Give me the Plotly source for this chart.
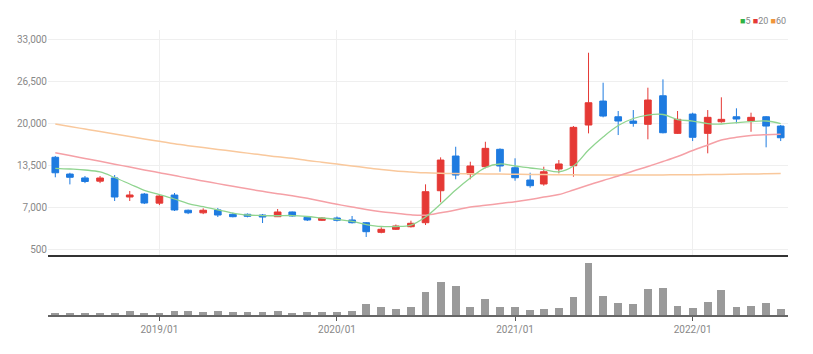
import plotly.graph_objects as go
import pandas as pd

months = pd.date_range("2018-06-01", "2022-07-01", freq="MS").strftime("%Y-%m-%d").tolist()

open_ = [14700, 12100, 11500, 11000, 11500, 8550, 9000, 7600, 8850, 6500,
         6100, 6550, 5870, 5870, 5760, 5500, 6230, 5400, 4940, 5300,
         4990, 4570, 3080, 3550, 3950, 4570, 9520, 14890, 12100, 13240,
         15930, 13080, 11180, 10560, 12880, 13390, 19690, 23400, 20970, 20310,
         19800, 24220, 18400, 21390, 18400, 20200, 20970, 20310, 20970, 19530]
high_ = [14900, 12300, 11800, 11800, 11950, 9480, 9170, 8900, 9170, 6600,
         6800, 6850, 6120, 6000, 5920, 6690, 6300, 5530, 5450, 5530,
         5610, 4680, 3860, 4290, 4880, 10510, 14690, 16330, 14010, 17100,
         16080, 14540, 12310, 13240, 14270, 19540, 30880, 26240, 21860, 22010,
         25470, 26760, 21860, 21600, 22010, 23980, 22280, 21600, 21080, 19690]
low_ = [11600, 10500, 10700, 10700, 7930, 7930, 7460, 7300, 6380, 5900,
        5900, 5450, 5400, 5400, 4520, 5450, 5500, 4830, 4830, 4760,
        4450, 2360, 2930, 3440, 3830, 4210, 7730, 11290, 11290, 12990,
        12460, 11070, 9990, 10300, 12210, 11690, 18400, 20880, 18140, 19430,
        17480, 18400, 18300, 17210, 15310, 20050, 19950, 18650, 16240, 17210]
close_ = [12300, 11600, 10950, 11490, 8550, 8860, 7620, 8700, 6540, 6100,
          6500, 5760, 5500, 5560, 5450, 6230, 5610, 4990, 5300, 4940,
          4570, 3180, 3550, 4060, 4480, 9370, 14270, 11950, 13350, 16080,
          13350, 11530, 10300, 12460, 13660, 19330, 23140, 21080, 20310, 19950,
          23560, 18500, 20570, 17790, 20880, 20570, 20620, 20880, 19530, 17720]

ma5 = [12990, 12880, 12730, 12420, 11570, 10560, 9590, 8930, 8240, 7540,
       7050, 6540, 6070, 5760, 5680, 5650, 5680, 5530, 5300, 5100,
       4760, 4290, 3980, 3980, 4210, 5450, 7460, 9630, 11490, 13110,
       13660, 13350, 13040, 12800, 12460, 13350, 15820, 17830, 19610, 20700,
       21240, 21320, 20540, 20310, 19920, 19850, 20050, 20230, 20310, 19920]
ma20 = [15400, 14960, 14510, 14070, 13620, 13190, 12740, 12310, 11880, 11440,
        11020, 10620, 10220, 9820, 9430, 9070, 8760, 8350, 7880, 7420,
        7000, 6610, 6270, 6030, 5790, 5730, 6100, 6540, 7000, 7260,
        7540, 7820, 8160, 8550, 8930, 9630, 10400, 11100, 11800, 12570,
        13270, 14040, 14820, 15740, 16600, 17370, 17790, 18070, 18190, 18250]
ma60 = [19850, 19460, 19070, 18700, 18310, 17930, 17540, 17170, 16780, 16490,
        16210, 15910, 15640, 15340, 15060, 14770, 14550, 14210, 13930, 13640,
        13360, 13080, 12790, 12570, 12420, 12290, 12220, 12180, 12150, 12120,
        12100, 12080, 12050, 12030, 12000, 11980, 11960, 11950, 11950, 11950,
        11960, 11970, 11990, 12000, 12020, 12050, 12080, 12110, 12140, 12170]

volume = [25000, 25000, 25000, 15000, 25000, 45000, 25000, 25000, 45000, 45000,
          30000, 45000, 30000, 30000, 30000, 45000, 25000, 30000, 30000, 30000,
          45000, 107000, 83000, 60000, 83000, 227000, 327000, 290000, 83000, 157000,
          83000, 77000, 50000, 57000, 67000, 177000, 523000, 190000, 123000, 107000,
          257000, 267000, 93000, 67000, 127000, 250000, 83000, 93000, 123000, 57000]

price_ticks = [500, 7000, 13500, 20000, 26500, 33000]
legend_labels = ["5", "20", "60"]

UP = "#e53935"
DOWN = "#1e7be0"
C5 = "#8fd48f"
C20 = "#f5a0a6"
C60 = "#f9c89c"
FONT = "Liberation Sans Narrow, Arial Narrow, Roboto, sans-serif"

fig = go.Figure()
fig.add_trace(go.Scatter(x=months, y=ma60, mode="lines", line=dict(color=C60, width=1.5, shape="spline"),
                         showlegend=False, xaxis="x", yaxis="y"))
fig.add_trace(go.Scatter(x=months, y=ma20, mode="lines", line=dict(color=C20, width=1.5, shape="spline"),
                         showlegend=False, xaxis="x", yaxis="y"))
fig.add_trace(go.Scatter(x=months, y=ma5, mode="lines", line=dict(color=C5, width=1.3, shape="spline"),
                         showlegend=False, xaxis="x", yaxis="y"))
fig.add_trace(go.Candlestick(
    x=months, open=open_, high=high_, low=low_, close=close_,
    increasing=dict(line=dict(color=UP, width=1), fillcolor=UP),
    decreasing=dict(line=dict(color=DOWN, width=1), fillcolor=DOWN),
    showlegend=False, xaxis="x", yaxis="y"))
fig.add_trace(go.Bar(x=months, y=volume, marker=dict(color="#9a9a9a", line=dict(width=0)),
                     width=16 * 86400000, showlegend=False, xaxis="x2", yaxis="y2"))

xr = ["2018-05-17", "2022-07-16"]
fig.update_layout(
    width=813, height=354,
    margin=dict(l=48, r=25, t=30, b=39),
    paper_bgcolor="white", plot_bgcolor="white",
    font=dict(family=FONT, size=10, color="#888"),
    showlegend=False,
    xaxis=dict(domain=[0, 1], range=xr, type="date", anchor="y",
               showticklabels=False, showgrid=True, gridcolor="#efefef",
               dtick="M12", tick0="2019-01-01", zeroline=False,
               showline=True, linecolor="#333", linewidth=2,
               rangeslider=dict(visible=False)),
    yaxis=dict(domain=[0.2105, 1], range=[-430, 34400], anchor="x",
               tickvals=price_ticks, tickformat=",", showgrid=True, gridcolor="#efefef",
               zeroline=False, ticks="", tickfont=dict(size=10, color="#888")),
    xaxis2=dict(domain=[0, 1], range=xr, type="date", anchor="y2", matches="x",
                dtick="M12", tick0="2019-01-01", tickformat="%Y/%m",
                showgrid=False, showline=True, linecolor="#666", linewidth=2,
                ticks="outside", ticklen=4, tickcolor="#555",
                tickfont=dict(size=10, color="#888")),
    yaxis2=dict(domain=[0, 0.2], range=[0, 570000], anchor="x2",
                showticklabels=False, showgrid=False, zeroline=False),
    bargap=0,
)

legend_html = (f'<span style="color:#2fb344">■</span>{legend_labels[0]} '
               f'<span style="color:#e53935">■</span>{legend_labels[1]} '
               f'<span style="color:#f0953a">■</span>{legend_labels[2]}')
fig.add_annotation(text=legend_html, xref="paper", yref="paper", x=1, y=1.0,
                   xanchor="right", yanchor="bottom", yshift=2, showarrow=False,
                   font=dict(family=FONT, size=9, color="#888"))

fig.write_html("out.html")
